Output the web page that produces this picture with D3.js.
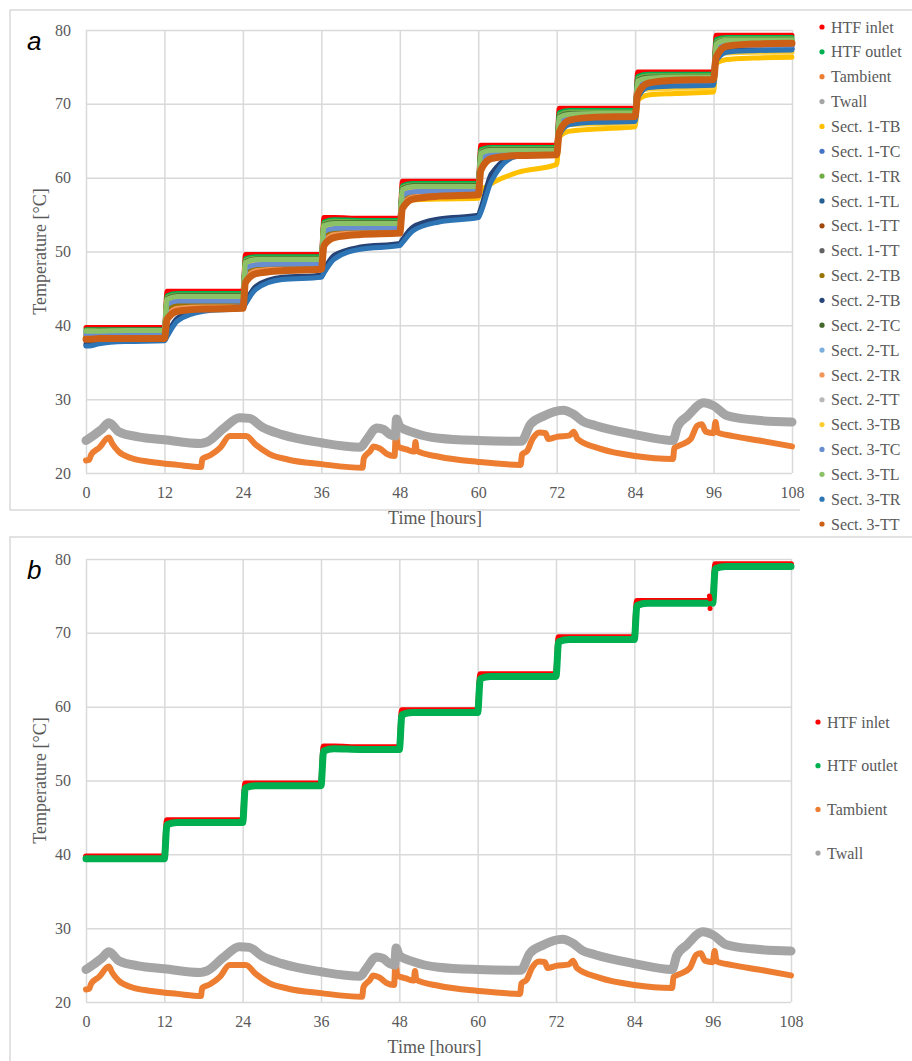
<!DOCTYPE html>
<html>
<head>
<meta charset="utf-8">
<script src="https://cdn.jsdelivr.net/npm/d3@7"></script>
<style>
    body { margin: 0; background: #fff; }
    svg text { font-family: 'Liberation Serif', 'Times New Roman', serif; fill: #595959; }
</style>
</head>
<body>
<div id="chart"></div>
<script>
// Axis ticks
const hourTicks = [0, 12, 24, 36, 48, 60, 72, 84, 96, 108];
const tempTicks = [20, 30, 40, 50, 60, 70, 80];

// Sample times (hours) shared by the HTF and section sensor series
const stepTimes = [0, 0.4, 2, 6, 12, 12.4, 14, 18, 24, 24.4, 26, 30, 36, 36.4, 38, 42,
    48, 48.4, 50, 54, 60, 60.4, 62, 66, 72, 72.4, 74, 78, 84, 84.4, 86, 90,
    96, 96.4, 98, 102, 108];

const htfInlet = [39.7,39.7,39.7,39.7, 39.7,44.6,44.6,44.6, 44.6,49.6,49.6,49.6, 49.6,54.6,54.6,54.5,
    54.5,59.5,59.5,59.5, 59.5,64.4,64.4,64.4, 64.4,69.4,69.4,69.4, 69.4,74.3,74.3,74.3,
    74.3,79.3,79.3,79.3, 79.3];
const htfOutlet = [39.4,39.4,39.4,39.4, 39.4,44.0,44.3,44.3, 44.3,49.0,49.3,49.3, 49.3,54.0,54.3,54.2,
    54.2,58.9,59.2,59.2, 59.2,63.8,64.1,64.1, 64.1,68.8,69.1,69.1, 69.1,73.7,74.0,74.0,
    74.0,78.7,79.0,79.0, 79.0];

const sect1TB = [38.5,38.5,38.6,38.7, 38.8,42.5,43.3,43.0, 42.9,47.5,48.0,47.8, 47.8,52.5,52.8,52.6,
    52.6,56.5,57.0,57.1, 57.2,58.2,59.2,60.7, 61.8,65.5,66.3,66.6, 66.9,70.5,71.2,71.4,
    71.6,75.5,76.0,76.2, 76.3];
const sect1TC = [38.7,38.7,38.8,38.8, 38.8,42.6,43.1,43.2, 43.2,47.5,48.1,48.2, 48.2,52.5,53.0,53.1,
    53.1,57.4,58.0,58.1, 58.1,62.4,63.0,63.1, 63.1,67.4,67.9,68.0, 68.0,72.3,72.8,72.9,
    72.9,77.2,77.8,77.8, 77.8];
const sect1TR = [39.3,39.3,39.3,39.3, 39.3,43.8,44.1,44.1, 44.1,48.8,49.1,49.1, 49.1,53.8,54.1,54.0,
    54.0,58.7,59.0,59.0, 59.0,63.6,63.9,63.9, 63.9,68.5,68.9,68.9, 68.9,73.4,73.8,73.8,
    73.8,78.4,78.8,78.8, 78.8];
const sect1TL = [37.3,37.3,37.6,37.9, 38.0,38.6,40.8,42.0, 42.4,43.0,45.0,46.3, 46.6,47.2,49.2,50.4,
    50.9,51.3,53.0,54.2, 54.7,55.5,60.0,63.0, 63.2,66.0,67.3,67.6, 67.7,71.0,72.3,72.5,
    72.6,76.0,77.1,77.3, 77.4];
const sect1TTa = [38.4,38.4,38.5,38.5, 38.5,41.5,42.6,42.8, 42.8,46.5,47.6,47.8, 47.8,51.5,52.6,52.8,
    52.8,56.5,57.6,57.8, 57.8,61.5,62.9,63.1, 63.1,66.8,68.0,68.2, 68.2,71.8,73.0,73.2,
    73.2,76.8,78.0,78.1, 78.1];
const sect1TTb = [38.9,38.9,38.9,38.9, 38.9,43.0,43.5,43.5, 43.5,48.0,48.5,48.5, 48.5,53.0,53.4,53.4,
    53.4,57.9,58.4,58.4, 58.4,62.9,63.3,63.4, 63.4,67.8,68.3,68.3, 68.3,72.7,73.2,73.2,
    73.2,77.6,78.1,78.1, 78.1];
const sect2TBa = [38.6,38.6,38.6,38.7, 38.7,42.0,42.9,43.0, 43.0,47.0,47.8,47.9, 47.9,52.0,52.8,52.9,
    52.9,57.0,57.8,57.9, 57.9,62.0,63.0,63.1, 63.1,67.2,68.0,68.1, 68.1,72.2,73.0,73.1,
    73.1,77.1,77.9,78.0, 78.0];
const sect2TBb = [37.5,37.5,37.8,38.0, 38.1,38.8,41.0,42.2, 42.6,43.2,45.3,46.5, 46.8,47.5,49.5,50.6,
    51.1,51.6,53.3,54.4, 54.9,55.8,60.5,63.1, 63.3,66.2,67.5,67.8, 67.9,71.2,72.5,72.7,
    72.8,76.2,77.3,77.5, 77.5];
const sect2TC = [39.1,39.1,39.2,39.2, 39.2,43.6,44.0,44.0, 44.0,48.6,49.0,49.0, 49.0,53.6,53.9,53.9,
    53.9,58.5,58.9,58.9, 58.9,63.4,63.8,63.8, 63.8,68.3,68.7,68.7, 68.7,73.2,73.6,73.6,
    73.6,78.2,78.6,78.6, 78.6];
const sect2TL = [39.0,39.0,39.0,39.1, 39.1,43.0,43.4,43.5, 43.5,47.9,48.4,48.5, 48.5,52.9,53.3,53.4,
    53.4,57.8,58.3,58.4, 58.4,62.8,63.3,63.4, 63.4,67.8,68.2,68.3, 68.3,72.7,73.1,73.2,
    73.2,77.6,78.1,78.1, 78.1];
const sect2TR = [38.3,38.3,38.3,38.4, 38.4,41.2,42.3,42.5, 42.5,46.2,47.4,47.6, 47.6,51.2,52.3,52.5,
    52.5,56.2,57.4,57.6, 57.6,61.2,62.8,63.0, 63.0,66.5,67.9,68.1, 68.1,71.5,72.9,73.1,
    73.1,76.5,77.9,78.0, 78.0];
const sect2TT = [39.0,39.0,39.0,39.0, 39.0,43.2,43.7,43.7, 43.7,48.2,48.7,48.7, 48.7,53.2,53.6,53.6,
    53.6,58.1,58.5,58.6, 58.6,63.0,63.5,63.5, 63.5,68.0,68.4,68.4, 68.4,72.9,73.3,73.3,
    73.3,77.8,78.3,78.3, 78.3];
const sect3TB = [38.8,38.8,38.9,39.0, 39.0,43.5,43.8,43.6, 43.5,48.5,48.7,48.5, 48.4,53.5,53.6,53.4,
    53.3,58.0,58.3,58.2, 58.2,62.0,63.2,63.5, 63.6,67.0,67.2,67.3, 67.4,71.8,72.0,72.1,
    72.2,76.8,76.9,77.0, 77.0];
const sect3TC = [38.8,38.8,38.9,38.9, 38.9,42.8,43.3,43.3, 43.3,47.7,48.2,48.3, 48.3,52.7,53.1,53.2,
    53.2,57.6,58.1,58.2, 58.2,62.6,63.1,63.2, 63.2,67.6,68.0,68.1, 68.1,72.5,72.9,73.0,
    73.0,77.4,77.9,77.9, 77.9];
const sect3TL = [39.2,39.2,39.2,39.3, 39.3,43.5,43.9,43.9, 43.9,48.5,48.9,48.9, 48.9,53.5,53.8,53.8,
    53.8,58.4,58.8,58.8, 58.8,63.3,63.7,63.7, 63.7,68.2,68.6,68.7, 68.7,73.1,73.5,73.6,
    73.6,78.1,78.6,78.6, 78.6];
const sect3TR = [37.2,37.2,37.5,37.8, 37.9,38.5,40.6,41.9, 42.3,42.9,44.9,46.2, 46.5,47.1,49.0,50.3,
    50.8,51.2,52.8,54.0, 54.6,55.3,59.5,62.9, 63.1,65.8,67.2,67.5, 67.6,70.8,72.2,72.4,
    72.5,75.8,77.0,77.2, 77.3];
const sect3TT = [38.1,38.1,38.2,38.2, 38.2,40.8,41.9,42.2, 42.3,45.8,47.0,47.4, 47.6,50.8,51.9,52.3,
    52.5,55.8,57.1,57.5, 57.7,61.0,62.6,63.0, 63.1,66.2,67.8,68.2, 68.3,71.3,72.8,73.2,
    73.3,76.3,77.8,78.1, 78.2];

// Ambient temperature
const ambTime = [0,0.5,0.8,2,3.5,4,5,7,10,14, 17.6,17.8,19,20.5,22,24.5,26,28,31,36,
    42.3,42.5,43.5,44,45,46,47.2,47.4,47.7,49, 50.2,50.4,50.6,54,60,66.5,66.7,67.5,68.3,69.4,
    70.3,70.7,72,74,74.6,75.2,78.6,84,89.8,90, 91,92.5,93.5,94.2,94.8,96,96.3,96.6,99,103, 108];
const ambVals = [21.7,21.8,22.5,23.4,24.8,24.0,22.9,22.0,21.5,21.1, 20.8,21.9,22.4,23.4,25.0,25.0,23.8,22.6,21.8,21.2,
    20.7,22.0,23.0,23.6,23.3,22.6,22.3,25.4,23.6,23.2, 22.9,24.2,23.0,22.2,21.5,21.1,22.5,23.0,24.6,25.5,
    25.4,24.6,24.9,25.1,25.6,24.6,23.3,22.3,21.9,23.4, 23.8,24.6,26.4,26.6,25.6,25.4,26.9,25.5,25.0,24.4, 23.6];

// Wall temperature
const wallTime = [0,1,2.5,3.5,5,8,12,17.5,18.5,21, 23.5,25,27,30,36,42,43,44.5,45.5,46.5,
    47.3,47.5,48,50,54,60,66.6,68,70,73, 74.5,76,78,84,89.8,90.5,92,94.5,96,98, 102,108];
const wallVals = [24.4,25.0,26.0,26.8,25.6,24.9,24.5,24.0,24.2,26.0, 27.5,27.4,26.2,25.2,24.1,23.5,24.6,26.1,25.9,25.2,
    25.0,27.3,26.3,25.5,24.7,24.4,24.3,26.6,27.7,28.5, 28.0,27.0,26.4,25.2,24.4,26.3,27.7,29.5,29.1,27.8, 27.2,26.9];

// Stray inlet readings around the last step (panel b)
const inletOutlierTime = [95.6, 95.6, 95.5];
const inletOutlierVals = [73.3, 74.6, 75.0];

const namesA = ['HTF inlet', 'HTF outlet', 'Tambient', 'Twall',
    'Sect. 1-TB', 'Sect. 1-TC', 'Sect. 1-TR', 'Sect. 1-TL', 'Sect. 1-TT', 'Sect. 1-TT',
    'Sect. 2-TB', 'Sect. 2-TB', 'Sect. 2-TC', 'Sect. 2-TL', 'Sect. 2-TR', 'Sect. 2-TT',
    'Sect. 3-TB', 'Sect. 3-TC', 'Sect. 3-TL', 'Sect. 3-TR', 'Sect. 3-TT'];
const colorsA = ['#ff0000', '#00b050', '#ed7d31', '#a5a5a5',
    '#ffc000', '#4472c4', '#70ad47', '#255e91', '#9e480e', '#636363',
    '#997300', '#264478', '#43682b', '#7cafdd', '#f1975a', '#b7b7b7',
    '#ffcd33', '#698ed0', '#8cc168', '#2e75b6', '#cc5f16'];
const namesB = ['HTF inlet', 'HTF outlet', 'Tambient', 'Twall'];

document.addEventListener('DOMContentLoaded', () => {
    const svg = d3.select('#chart')
        .append('svg')
        .attr('width', 912)
        .attr('height', 1061);

    // panel frames
    svg.append('path')
        .attr('d', 'M800,510 H10 V10 H912')
        .attr('fill', 'none').attr('stroke', '#d9d9d9').attr('stroke-width', 1.5);
    svg.append('path')
        .attr('d', 'M10,1061 V537 H912')
        .attr('fill', 'none').attr('stroke', '#d9d9d9').attr('stroke-width', 1.5);

    const sensorsA = [sect1TB, sect1TC, sect1TR, sect1TL, sect1TTa, sect1TTb,
        sect2TBa, sect2TBb, sect2TC, sect2TL, sect2TR, sect2TT,
        sect3TB, sect3TC, sect3TL, sect3TR, sect3TT];

    const seriesA = [
        { t: stepTimes, v: htfInlet, color: colorsA[0], w: 5 },
        { t: stepTimes, v: htfOutlet, color: colorsA[1], w: 5 },
        { t: ambTime, v: ambVals, color: colorsA[2], w: 6 },
        { t: wallTime, v: wallVals, color: colorsA[3], w: 9 }
    ].concat(sensorsA.map((v, i) => ({
        t: stepTimes, v: v, color: colorsA[i + 4], w: i === 16 ? 7 : 5
    })));

    const seriesB = [
        { t: stepTimes, v: htfInlet, color: colorsA[0], w: 6 },
        { t: stepTimes, v: htfOutlet, color: colorsA[1], w: 7 },
        { t: ambTime, v: ambVals, color: colorsA[2], w: 6 },
        { t: wallTime, v: wallVals, color: colorsA[3], w: 9 }
    ];

    drawPanel(svg, {
        left: 86, right: 792, top: 30, bottom: 473, letter: 'a',
        series: seriesA,
        legend: namesA.map((n, i) => ({ name: n, color: colorsA[i] })),
        legendX: 822, legendY: 27, legendStep: 24.85
    });

    const pb = drawPanel(svg, {
        left: 86, right: 791, top: 559, bottom: 1002, letter: 'b',
        series: seriesB,
        legend: namesB.map((n, i) => ({ name: n, color: colorsA[i] })),
        legendX: 818, legendY: 722, legendStep: 43.7
    });

    // stray inlet dots
    pb.plot.selectAll('circle.outlier')
        .data(inletOutlierTime.map((t, i) => [t, inletOutlierVals[i]]))
        .enter()
        .append('circle')
        .attr('cx', d => pb.x(d[0]))
        .attr('cy', d => pb.y(d[1]))
        .attr('r', 2.5)
        .attr('fill', colorsA[0]);
});

function drawPanel(svg, cfg) {
    const x = d3.scaleLinear().domain([0, 108]).range([cfg.left, cfg.right]);
    const y = d3.scaleLinear().domain([20, 80]).range([cfg.bottom, cfg.top]);

    // grid + labels
    svg.append('g')
        .attr('transform', `translate(0,${cfg.bottom})`)
        .call(d3.axisBottom(x).tickValues(hourTicks).tickSize(-(cfg.bottom - cfg.top)).tickPadding(14))
        .call(g => g.select('.domain').remove())
        .call(g => g.selectAll('.tick line').attr('stroke', '#d9d9d9').attr('stroke-width', 1.5))
        .call(g => g.selectAll('.tick text').attr('font-size', 16).attr('fill', '#595959')
            .style('font-family', "'Liberation Serif', 'Times New Roman', serif"));

    svg.append('g')
        .attr('transform', `translate(${cfg.left},0)`)
        .call(d3.axisLeft(y).tickValues(tempTicks).tickSize(-(cfg.right - cfg.left)).tickPadding(15))
        .call(g => g.select('.domain').remove())
        .call(g => g.selectAll('.tick line').attr('stroke', '#d9d9d9').attr('stroke-width', 1.5))
        .call(g => g.selectAll('.tick text').attr('font-size', 16).attr('fill', '#595959')
            .style('font-family', "'Liberation Serif', 'Times New Roman', serif"));

    // axis titles
    svg.append('text')
        .attr('x', (cfg.left + cfg.right) / 2 - 4)
        .attr('y', cfg.bottom + 51)
        .attr('text-anchor', 'middle')
        .attr('font-size', 18)
        .text('Time [hours]');

    svg.append('text')
        .attr('transform', 'rotate(-90)')
        .attr('x', -(cfg.top + cfg.bottom) / 2)
        .attr('y', 46)
        .attr('text-anchor', 'middle')
        .attr('font-size', 18)
        .text('Temperature [°C]');

    // panel letter
    svg.append('text')
        .attr('x', 27)
        .attr('y', cfg.top + 20)
        .attr('font-size', 26)
        .attr('font-style', 'italic')
        .style('font-family', "'Liberation Sans', Arial, sans-serif")
        .style('fill', '#000')
        .text(cfg.letter);

    const plot = svg.append('g');
    const line = d3.line()
        .x(d => x(d[0]))
        .y(d => y(d[1]))
        .curve(d3.curveMonotoneX);

    cfg.series.forEach(s => {
        plot.append('path')
            .datum(s.t.map((t, i) => [t, s.v[i]]))
            .attr('d', line)
            .attr('fill', 'none')
            .attr('stroke', s.color)
            .attr('stroke-width', s.w)
            .attr('stroke-linejoin', 'round')
            .attr('stroke-linecap', 'round');
    });

    // legend
    const leg = svg.append('g');
    cfg.legend.forEach((d, i) => {
        const ly = cfg.legendY + i * cfg.legendStep;
        leg.append('circle')
            .attr('cx', cfg.legendX)
            .attr('cy', ly)
            .attr('r', 2.6)
            .attr('fill', d.color);
        leg.append('text')
            .attr('x', cfg.legendX + 9)
            .attr('y', ly)
            .attr('dy', '0.35em')
            .attr('font-size', 16)
            .text(d.name);
    });

    return { x, y, plot };
}
</script>
</body>
</html>
